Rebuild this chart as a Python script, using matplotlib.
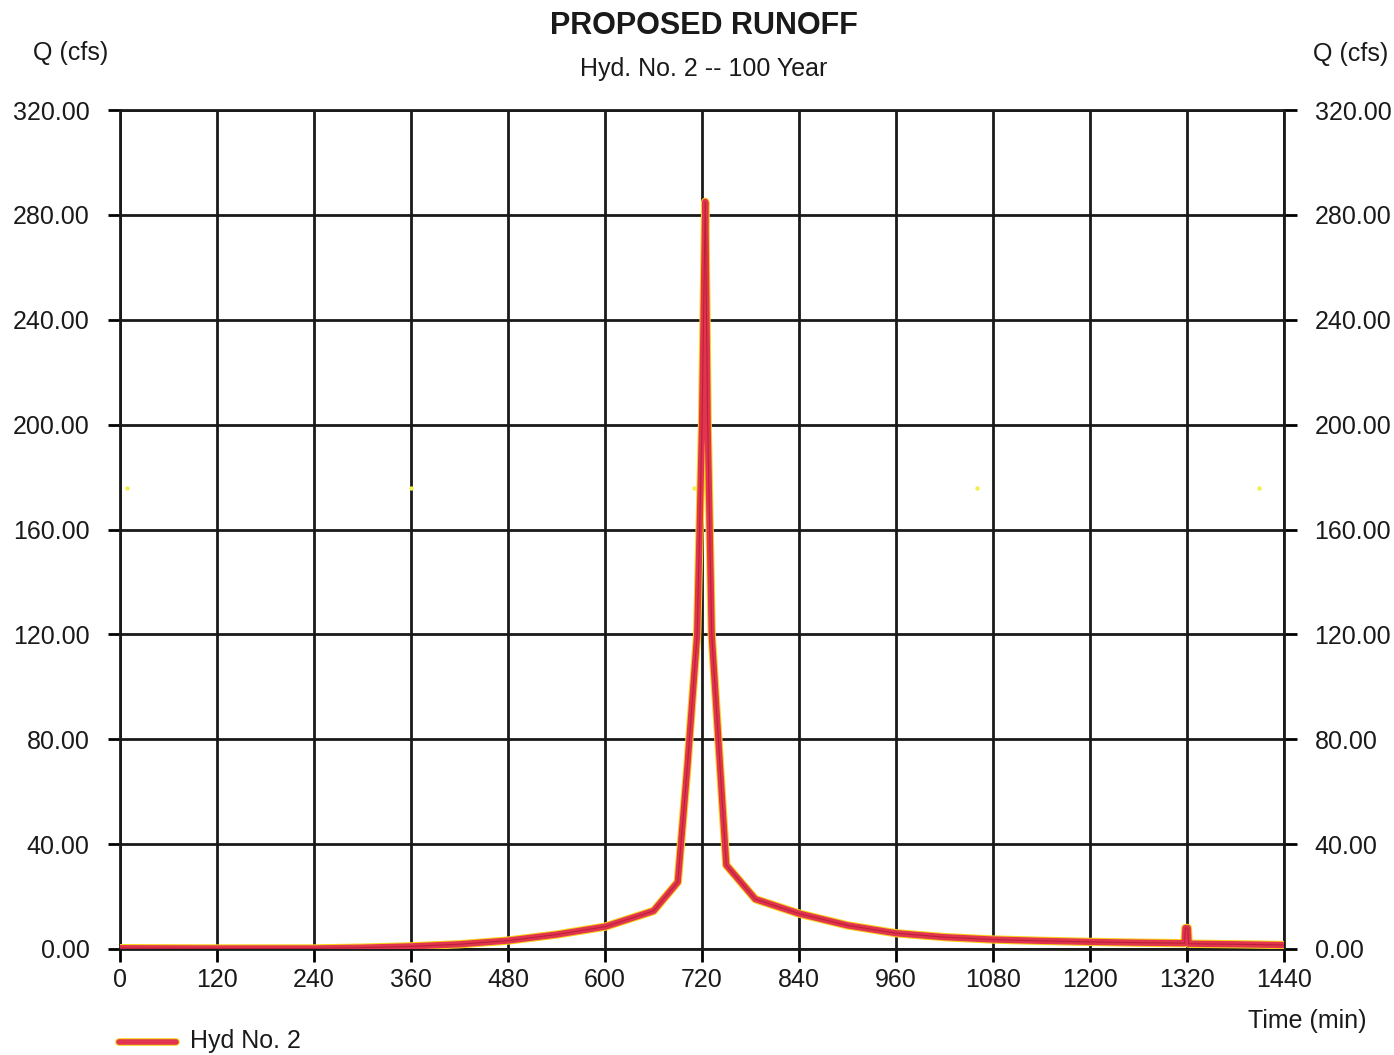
import matplotlib.pyplot as plt

plt.rcParams['font.family'] = ['Liberation Sans', 'DejaVu Sans']

# hydrograph (time in min, Q in cfs)
time_min = [0, 120, 240, 300, 360, 420, 480, 540, 600, 660, 690, 702, 714, 720, 724,
            727, 732, 750, 786, 840, 900, 960, 1020, 1080, 1140, 1200, 1260, 1317,
            1318, 1321, 1322, 1380, 1440]
q_cfs = [0.3, 0.2, 0.2, 0.5, 1.0, 1.8, 3.2, 5.5, 8.5, 14.5, 25.5, 70, 120, 200, 285,
         200, 120, 32, 19, 13.5, 9.0, 6.0, 4.5, 3.6, 3.1, 2.7, 2.4, 2.2,
         8.0, 8.0, 2.0, 1.8, 1.5]

# faint yellow specks on the scan
dot_t = [9, 360, 710, 1060, 1409]
dot_q = [176, 176, 176, 176, 176]

x_ticks = list(range(0, 1441, 120))
y_ticks = [0, 40, 80, 120, 160, 200, 240, 280, 320]

fig = plt.figure(figsize=(13.94, 10.55), dpi=100)
ax = fig.add_axes([0.0861, 0.1005, 0.835, 0.7952])

ax.plot(time_min, q_cfs, color='#f5d21c', lw=6, solid_joinstyle='round', zorder=3)
ax.plot(time_min, q_cfs, color='#e2344f', lw=4.5, solid_joinstyle='round', zorder=4)
ax.plot(time_min, q_cfs, color='#b82238', lw=0.8, zorder=5)
ax.scatter(dot_t, dot_q, s=10, color='#f2ee4a', zorder=2, linewidths=0)

ax.set_xlim(0, 1440)
ax.set_ylim(0, 320)
ax.set_xticks(x_ticks)
ax.set_yticks(y_ticks)
ax.set_xticklabels([str(v) for v in x_ticks])
ax.set_yticklabels(['%.2f' % v for v in y_ticks])
ax.grid(True, color='#1a1a1a', lw=2)
ax.set_axisbelow(True)
for s in ax.spines.values():
    s.set_color('#1a1a1a')
    s.set_linewidth(2)

ax.tick_params(axis='y', which='both', direction='out', length=9, width=2,
               left=True, right=True, labelleft=True, labelright=True,
               labelsize=18, pad=13)
ax.tick_params(axis='x', direction='out', length=9, width=2, labelsize=18, pad=5)
for lbl in ax.get_yticklabels() + ax.get_xticklabels():
    lbl.set_color('#1a1a1a')

fig.text(0.505, 0.975, 'PROPOSED RUNOFF', ha='center', va='center',
         fontsize=22, fontweight='bold', color='#1a1a1a')
fig.text(0.505, 0.935, 'Hyd. No. 2 -- 100 Year', ha='center', va='center',
         fontsize=18, color='#1a1a1a')
fig.text(0.051, 0.950, 'Q (cfs)', ha='center', va='center', fontsize=18, color='#1a1a1a')
fig.text(0.969, 0.949, 'Q (cfs)', ha='center', va='center', fontsize=18, color='#1a1a1a')
fig.text(0.938, 0.032, 'Time (min)', ha='center', va='center', fontsize=18, color='#1a1a1a')

# legend drawn by hand at the bottom left
leg = fig.add_axes([0.08, 0.0, 0.06, 0.03])
leg.set_xlim(0, 1)
leg.set_ylim(0, 1)
leg.axis('off')
leg.plot([0.09, 0.77], [0.42, 0.42], color='#f5d21c', lw=5.5, solid_capstyle='round')
leg.plot([0.09, 0.77], [0.42, 0.42], color='#e2344f', lw=4, solid_capstyle='round')
fig.text(0.1363, 0.013, 'Hyd No. 2', ha='left', va='center', fontsize=18, color='#1a1a1a')

fig.savefig('out.png', dpi=100)
